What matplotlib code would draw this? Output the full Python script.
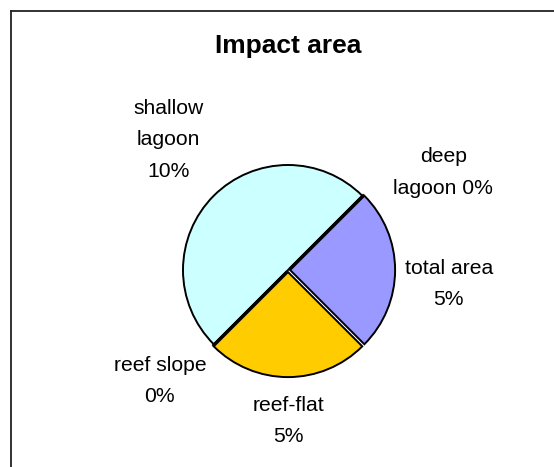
import matplotlib.pyplot as plt
from matplotlib.lines import Line2D

plt.rcParams['font.family'] = ['Liberation Sans', 'DejaVu Sans']

areas = ['shallow\nlagoon', 'deep\nlagoon', 'total area', 'reef-flat', 'reef slope']
impact = [10, 0, 5, 5, 0]
colors = ['#CCFFFF', '#FFFFFF', '#9999FF', '#FFCC00', '#FFFFFF']

# label text joins name and value the way the sheet shows them
sep = ['\n', ' ', '\n', '\n', '\n']
labels = [f'{a}{s}{v:.0f}%' for a, s, v in zip(areas, sep, impact)]

# label anchor offsets from the pie centre, in pie radii
label_pos = [(-1.14, 1.24), (1.48, 0.93), (1.53, -0.13), (0.0, -1.44), (-1.22, -1.06)]

W, H = 554, 467
cx, cy, r = 288, 270, 105

fig = plt.figure(figsize=(W / 100, H / 100), dpi=100)
ax = fig.add_axes([0, 0, 1, 1])

ax.pie(impact, colors=colors, startangle=225, counterclock=False,
       explode=[0.0, 0.02, 0.02, 0.02, 0.02], radius=1.0,
       wedgeprops=dict(edgecolor='black', linewidth=1.4))

ax.set_xlim(-cx / r, (W - cx) / r)
ax.set_ylim(-(H - cy) / r, cy / r)
ax.set_aspect('equal')
ax.axis('off')

for txt, (x, y) in zip(labels, label_pos):
    ax.text(x, y, txt, ha='center', va='center', fontsize=15.2, linespacing=1.82)

fig.text(cx / W, 1 - 46 / H, 'Impact area', ha='center', va='center',
         fontsize=19, fontweight='bold')

# chart area frame (left and top edges visible)
fig.add_artist(Line2D([10.5 / W, 10.5 / W], [0, 1 - 11 / H], transform=fig.transFigure,
                      color='#222222', lw=1.3))
fig.add_artist(Line2D([10.5 / W, 1], [1 - 11 / H, 1 - 11 / H], transform=fig.transFigure,
                      color='#222222', lw=1.3))

fig.savefig('out.png', dpi=100)
